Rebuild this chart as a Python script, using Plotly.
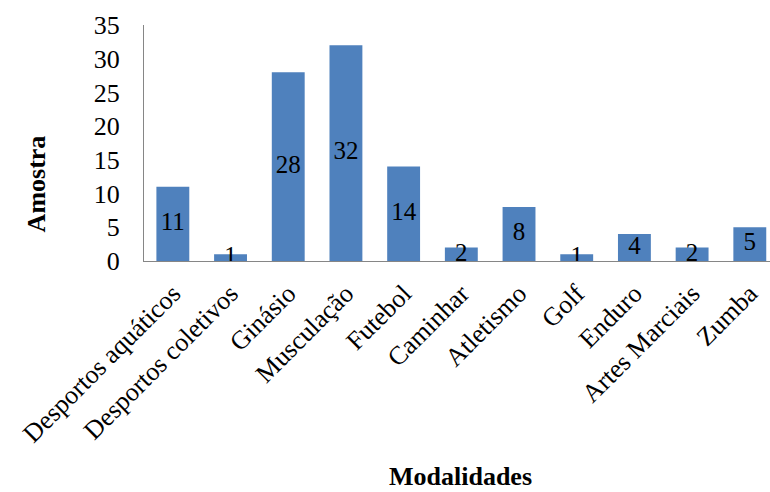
import plotly.graph_objects as go

categories = ["Desportos aquáticos", "Desportos coletivos", "Ginásio", "Musculação",
              "Futebol", "Caminhar", "Atletismo", "Golf", "Enduro",
              "Artes Marciais", "Zumba"]
values = [11, 1, 28, 32, 14, 2, 8, 1, 4, 2, 5]
y_ticks = [0, 5, 10, 15, 20, 25, 30, 35]

FONT = "Liberation Serif, Times New Roman, serif"
n = len(categories)
idx = list(range(n))

fig = go.Figure()
fig.add_trace(go.Bar(
    x=idx, y=values,
    marker=dict(color="#4F81BD", line=dict(color="#4F81BD", width=0)),
    hoverinfo="skip",
))
fig.add_trace(go.Scatter(
    x=idx, y=[v / 2 for v in values],
    mode="text", text=[str(v) for v in values],
    textposition="middle center",
    textfont=dict(family=FONT, size=25, color="black"),
    hoverinfo="skip",
))

fig.update_layout(
    width=770, height=492,
    margin=dict(l=144, r=0, t=25, b=231),
    paper_bgcolor="white", plot_bgcolor="white",
    showlegend=False,
    bargap=0.43,
    font=dict(family=FONT, size=26, color="black"),
    xaxis=dict(
        tickmode="array", tickvals=idx, ticktext=categories,
        tickangle=-45, range=[-0.5, 10.35], automargin=False,
        showgrid=False, zeroline=False,
        showline=True, linecolor="#868686", linewidth=1,
        ticks="", ticklabelstandoff=6,
        tickfont=dict(family=FONT, size=26, color="black"),
    ),
    yaxis=dict(
        range=[0, 35], tickmode="array", tickvals=y_ticks, automargin=False,
        showgrid=False, zeroline=False,
        showline=True, linecolor="#868686", linewidth=1,
        ticks="", ticklabelstandoff=18,
        tickfont=dict(family=FONT, size=26, color="black"),
    ),
    annotations=[
        dict(text="<b>Amostra</b>", xref="paper", yref="paper",
             x=-0.172, y=0.326, textangle=-90, showarrow=False,
             font=dict(family=FONT, size=26, color="black"),
             xanchor="center", yanchor="middle"),
        dict(text="<b>Modalidades</b>", xref="paper", yref="paper",
             x=0.505, y=-0.915, showarrow=False,
             font=dict(family=FONT, size=26, color="black"),
             xanchor="center", yanchor="middle"),
    ],
)

fig.write_html("out.html", config={"displayModeBar": False},
               post_script="document.body.style.margin='0px';document.body.style.overflow='hidden';")
